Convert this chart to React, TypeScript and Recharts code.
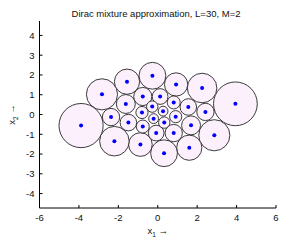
import React from 'react';
import { ScatterChart, Scatter, XAxis, YAxis, Label } from 'recharts';

// Component centres (x1, x2) and circle radii
const centerX = [
  3.94, -2.83, -1.56, -0.27, 0.93, 2.25, 2.42, -1.62, -0.76, 0.12, -0.28, 0.81, 1.55, -0.8, 0.27,
  -3.89, 2.87, 1.6, 0.32, -0.88, -2.2, -2.37, 1.69, 0.81, -0.08, 0.33, -0.76, -1.49, 0.91, -0.21,
];
const centerY = [
  0.54, 1.02, 1.66, 1.96, 1.52, 1.34, 0.13, 0.53, 0.91, 0.91, 0.4, 0.61, 0.38, 0.1, 0.17,
  -0.56, -1.05, -1.68, -1.96, -1.52, -1.35, -0.13, -0.55, -0.94, -0.94, -0.41, -0.61, -0.41, -0.11, -0.21,
];
const radius = [
  1.11, 0.79, 0.64, 0.68, 0.59, 0.75, 0.44, 0.48, 0.46, 0.4, 0.29, 0.33, 0.42, 0.31, 0.25,
  1.12, 0.79, 0.64, 0.68, 0.6, 0.75, 0.44, 0.48, 0.44, 0.4, 0.29, 0.33, 0.42, 0.31, 0.25,
];

const xTicks = [-6, -4, -2, 0, 2, 4, 6];
const yTicks = [-4, -3, -2, -1, 0, 1, 2, 3, 4];
const xDomain = [-6, 6];
const yDomain = [-4.73, 4.73];
const titleText = 'Dirac mixture approximation, L=30, M=2';

const data = centerX.map((x, i) => ({ x, y: centerY[i], r: radius[i] }));

const W = 284;
const H = 241;
const MARGIN = { top: 21, right: 8, bottom: 3, left: 9.5 };
const Y_W = 30;
const X_H = 30;
const PLOT_W = W - MARGIN.left - MARGIN.right - Y_W;
const UNIT = PLOT_W / (xDomain[1] - xDomain[0]);
const FONT = '"Liberation Sans", Arial, Helvetica, sans-serif';

const CircleShape = (props: any) => {
  const { cx, cy, payload } = props;
  return (
    <circle cx={cx} cy={cy} r={payload.r * UNIT} fill="#fdf0fd" stroke="#262626" strokeWidth={0.9} />
  );
};

const DotShape = (props: any) => <circle cx={props.cx} cy={props.cy} r={2} fill="#0000ff" />;

const XLabel = (props: any) => {
  const vb = props.viewBox || {};
  const cx = vb.x + vb.width / 2;
  const y = vb.y + 26;
  return (
    <text x={cx} y={y} textAnchor="middle" fontSize={9.5} fontFamily={FONT} fill="#111">
      <tspan>x</tspan>
      <tspan fontSize={6.5} dy={3}>1</tspan>
      <tspan dy={-3}> →</tspan>
    </text>
  );
};

const YLabel = (props: any) => {
  const vb = props.viewBox || {};
  const x = 15;
  const cy = vb.y + vb.height / 2;
  return (
    <text
      x={x}
      y={cy}
      textAnchor="middle"
      transform={`rotate(-90, ${x}, ${cy})`}
      fontSize={9.5}
      fontFamily={FONT}
      fill="#111"
    >
      <tspan>x</tspan>
      <tspan fontSize={6.5} dy={3}>2</tspan>
      <tspan dy={-3}> →</tspan>
    </text>
  );
};

export default function App() {
  return (
    <div style={{ position: 'absolute', left: 0, top: 0, width: W, height: H, background: '#fff' }}>
      <div
        style={{
          position: 'absolute',
          left: 28,
          width: 256,
          top: 8,
          lineHeight: '12px',
          fontSize: 9.5,
          fontFamily: FONT,
          textAlign: 'center',
          color: '#111',
        }}
      >
        {titleText}
      </div>
      <ScatterChart width={W} height={H} margin={MARGIN}>
        <XAxis
          type="number"
          dataKey="x"
          domain={xDomain}
          ticks={xTicks}
          allowDataOverflow
          height={X_H}
          axisLine={{ stroke: '#000', strokeWidth: 1 }}
          tickLine={{ stroke: '#000', strokeWidth: 1 }}
          tickSize={-3}
          tickMargin={9}
          tick={{ fontSize: 9.5, fontFamily: FONT, fill: '#111' }}
          interval={0}
        >
          <Label content={<XLabel />} />
        </XAxis>
        <YAxis
          type="number"
          dataKey="y"
          domain={yDomain}
          ticks={yTicks}
          allowDataOverflow
          width={Y_W}
          axisLine={{ stroke: '#000', strokeWidth: 1 }}
          tickLine={{ stroke: '#000', strokeWidth: 1 }}
          tickSize={-3}
          tickMargin={8}
          tick={{ fontSize: 9.5, fontFamily: FONT, fill: '#111' }}
          interval={0}
        >
          <Label content={<YLabel />} />
        </YAxis>
        <Scatter data={data} shape={<CircleShape />} isAnimationActive={false} />
        <Scatter data={data} shape={<DotShape />} isAnimationActive={false} />
      </ScatterChart>
    </div>
  );
}
